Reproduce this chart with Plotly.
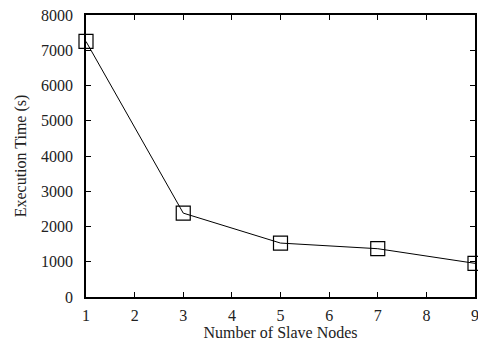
import plotly.graph_objects as go

nodes = [1, 3, 5, 7, 9]
exec_time = [7250, 2380, 1530, 1370, 955]

fig = go.Figure()
fig.add_trace(go.Scatter(
    x=nodes, y=exec_time, mode="lines+markers",
    line=dict(color="black", width=1),
    marker=dict(symbol="square-open", size=14, color="black", line=dict(width=1.2)),
    cliponaxis=False, showlegend=False,
))

font = dict(family="Liberation Serif", size=16, color="#222")
axis_common = dict(
    showline=True, linecolor="black", linewidth=1.5, mirror="ticks",
    ticks="inside", ticklen=5, tickcolor="black", tickwidth=1,
    showgrid=False, zeroline=False, tickfont=font, automargin=False,
    ticklabeloverflow="allow",
)
fig.update_layout(
    width=478, height=343,
    margin=dict(l=86, r=3, t=15, b=46),
    paper_bgcolor="white", plot_bgcolor="white",
    font=font,
    xaxis=dict(range=[1, 9], dtick=1, ticklabelstandoff=3,
               title=dict(text="Number of Slave Nodes", font=font, standoff=0), **axis_common),
    yaxis=dict(range=[0, 8000], dtick=1000, ticklabelstandoff=8,
               title=dict(text="Execution Time (s)", font=font, standoff=10), **axis_common),
)
fig.write_html(
    "out.html",
    config={"displayModeBar": False},
    post_script="document.body.style.margin='0';document.body.style.overflow='hidden';",
)
